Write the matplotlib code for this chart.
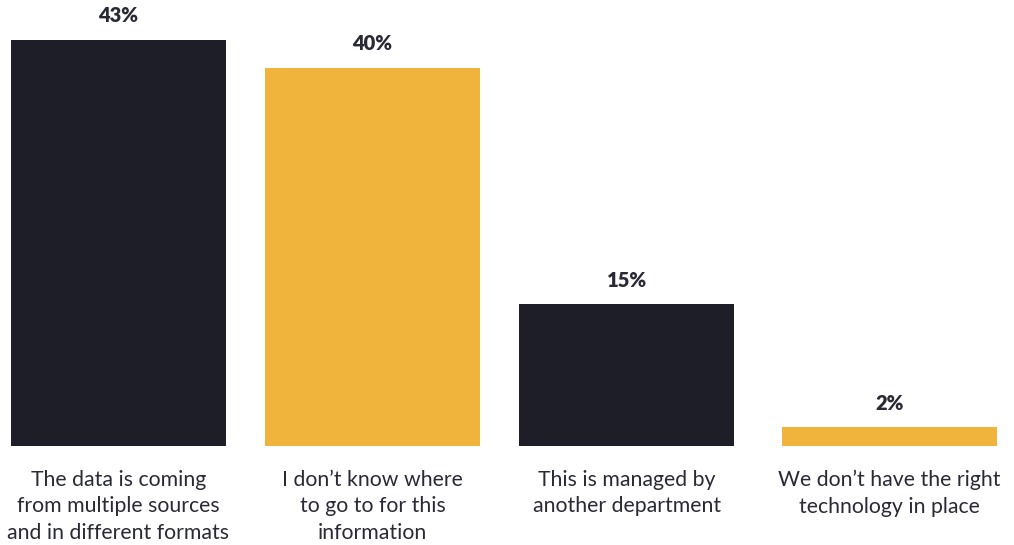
import matplotlib.pyplot as plt

categories = [
    "The data is coming\nfrom multiple sources\nand in different formats",
    "I don\u2019t know where\nto go to for this\ninformation",
    "This is managed by\nanother department",
    "We don\u2019t have the right\ntechnology in place",
]
values = [43, 40, 15, 2]
value_labels = ["43%", "40%", "15%", "2%"]

dark = "#1e1e29"
gold = "#f0b43c"
bar_colors = [dark, gold, dark, gold]
text_color = "#2a2a36"

plt.rcParams["font.family"] = ["Lato", "DejaVu Sans"]

fig = plt.figure(figsize=(10.14, 5.45), dpi=100)
ax = fig.add_axes([0, 99 / 545, 1, 446 / 545])

# the last bar sits a little further out than the others
x = [0, 0.988, 1.977, 3]
ax.bar(x, values, width=0.837, color=bar_colors)

for xi, v, lab in zip(x, values, value_labels):
    ax.annotate(lab, (xi, v), xytext=(0, 10.5), textcoords="offset points",
                ha="center", va="bottom", fontsize=14.5, fontweight="heavy",
                color=text_color)

ax.set_xticks(x)
ax.set_xticklabels(categories, fontsize=15.3, color=text_color, linespacing=1.42)
ax.tick_params(axis="x", length=0, pad=17)
ax.set_yticks([])
ax.set_xlim(-0.461, 3.484)
ax.set_ylim(0, 47.2)
for s in ax.spines.values():
    s.set_visible(False)

fig.savefig("out.png", dpi=100)
